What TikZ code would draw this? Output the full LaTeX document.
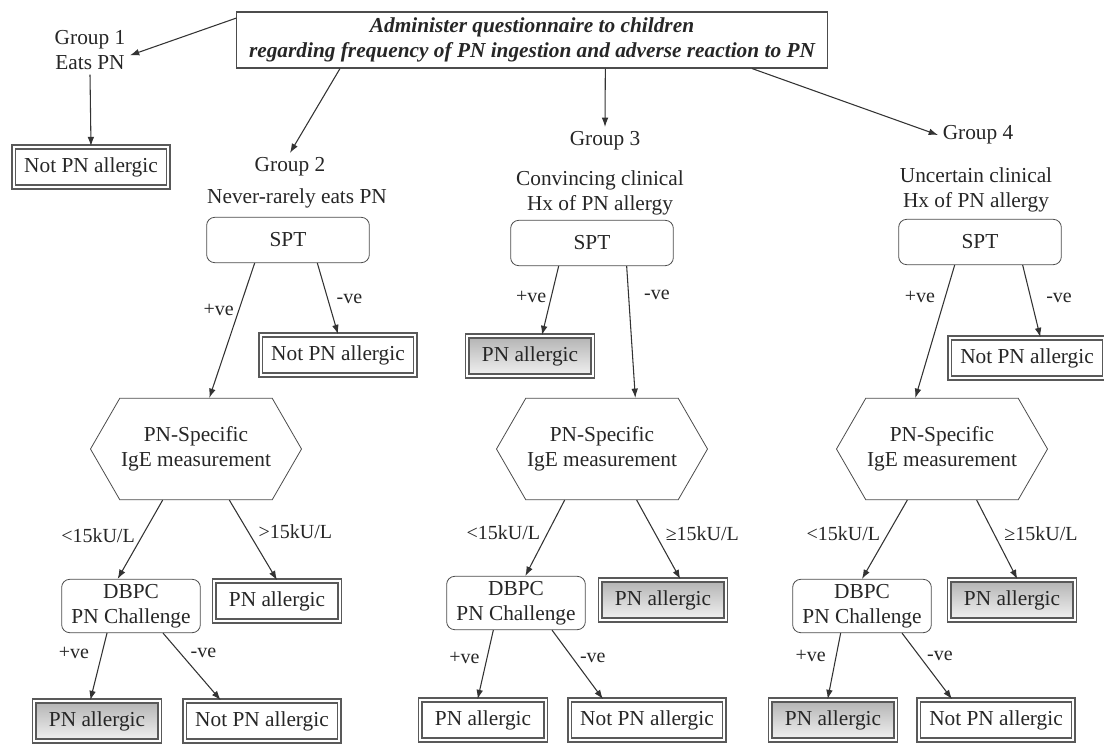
\documentclass[tikz,border=0pt]{standalone}
\usepackage{fontspec}
\setmainfont{Liberation Serif}
\usepackage{tikz}
\usetikzlibrary{shapes.symbols,arrows.meta}

\begin{document}
\begin{tikzpicture}[x=0.75pt,y=-0.75pt,font=\fontsize{16}{19}\selectfont,text=black!85,
  arr/.style={draw=black!80,line width=0.8pt,-{Latex[length=7pt,width=5pt]}},
  res/.style={draw=black!65,double=white,double distance=1.6pt,line width=1.3pt,minimum width=94pt,minimum height=30pt,inner sep=2pt},
  notres/.style={res,minimum width=116pt},
  shd/.style={top color=gray!60,bottom color=gray!10},
  spt/.style={draw=black!70,line width=0.6pt,rounded corners=6pt,minimum width=122pt,minimum height=34pt},
  dbpc/.style={draw=black!70,line width=0.6pt,rounded corners=6pt,minimum width=104pt,minimum height=40pt,align=center,inner sep=1pt},
  hex/.style={draw=black!70,line width=0.6pt,signal,signal to=west and east,signal pointer angle=120,minimum width=146pt,minimum height=76pt,align=center,inner sep=1pt},
  lbl/.style={font=\fontsize{15}{18}\selectfont}]
\useasboundingbox (0,0) rectangle (1104,744);

\node[draw=black!70,line width=0.8pt,minimum width=443pt,minimum height=42pt,align=center,inner sep=1pt,
  font=\fontsize{16}{19}\selectfont\bfseries\itshape] (top) at (532,40)
  {Administer questionnaire to children\\regarding frequency of PN ingestion and adverse reaction to PN};

% group 1
\node[align=center] (g1) at (90,50) {Group 1\\Eats PN};
\node[notres] (r1) at (91,167) {Not PN allergic};

% group 2
\node (g2) at (290,167) {Group 2};
\node (d2) at (297,198) {Never-rarely eats PN};
\node[spt] (spt2) at (288,240) {SPT};
\node[notres] (nr2) at (338,355) {Not PN allergic};
\node[hex] (hex2) at (196,449) {PN-Specific\\IgE measurement};
\node[dbpc] (dbpc2) at (131,606) {DBPC\\PN Challenge};
\node[res] (pa2) at (277,601) {PN allergic};
\node[res,shd] (pb2) at (97,721) {PN allergic};
\node[notres] (nb2) at (262,721) {Not PN allergic};

% group 3
\node (g3) at (605,141) {Group 3};
\node[align=center] (d3) at (600,193) {Convincing clinical\\Hx of PN allergy};
\node[spt] (spt3) at (592,243) {SPT};
\node[res,shd] (pa3s) at (530,356) {PN allergic};
\node[hex] (hex3) at (602,449) {PN-Specific\\IgE measurement};
\node[dbpc] (dbpc3) at (516,603) {DBPC\\PN Challenge};
\node[res,shd] (pa3) at (663,600) {PN allergic};
\node[res] (pb3) at (483,720) {PN allergic};
\node[notres] (nb3) at (647,720) {Not PN allergic};

% group 4
\node (g4) at (978,135) {Group 4};
\node[align=center] (d4) at (976,190) {Uncertain clinical\\Hx of PN allergy};
\node[spt] (spt4) at (980,242) {SPT};
\node[notres] (nr4) at (1027,358) {Not PN allergic};
\node[hex] (hex4) at (942,449) {PN-Specific\\IgE measurement};
\node[dbpc] (dbpc4) at (862,606) {DBPC\\PN Challenge};
\node[res,shd] (pa4) at (1012,600) {PN allergic};
\node[res,shd] (pb4) at (833,720) {PN allergic};
\node[notres] (nb4) at (996,720) {Not PN allergic};

% arrows from the questionnaire
\draw[arr] ([yshift=-5pt]top.north west) -- ([yshift=-4pt]g1.east);
\draw[arr] ([xshift=-144pt]top.south) -- (g2.north);
\draw[arr] ([xshift=55pt]top.south) -- (g3.north);
\draw[arr] ([xshift=165pt]top.south) -- (g4.west);
\draw[arr] (g1.south) -- (r1.north);

% group 2 arrows
\draw[arr] ([xshift=-25pt]spt2.south) -- node[lbl,pos=0.35,left] {+ve} ([xshift=10pt]hex2.north);
\draw[arr] ([xshift=22pt]spt2.south) -- node[lbl,pos=0.5,right=3pt] {-ve} (nr2.north);
\draw[arr] ([xshift=-25pt]hex2.south) -- node[lbl,pos=0.45,left=2pt] {<15kU/L} ([xshift=-10pt]dbpc2.north);
\draw[arr] ([xshift=25pt]hex2.south) -- node[lbl,pos=0.4,right=4pt] {>15kU/L} (pa2.north);
\draw[arr] ([xshift=-18pt]dbpc2.south) -- node[lbl,pos=0.3,left=6pt] {+ve} ([xshift=-5pt]pb2.north);
\draw[arr] ([xshift=24pt]dbpc2.south) -- node[lbl,pos=0.3,right=4pt] {-ve} ([xshift=-31pt]nb2.north);

% group 3 arrows
\draw[arr] ([xshift=-25pt]spt3.south) -- node[lbl,pos=0.45,left] {+ve} ([xshift=9pt]pa3s.north);
\draw[arr] ([xshift=26pt]spt3.south) -- node[lbl,pos=0.22,right=8pt] {-ve} ([xshift=25pt]hex3.north);
\draw[arr] ([xshift=-28pt]hex3.south) -- node[lbl,pos=0.43,left=2pt] {<15kU/L} ([xshift=7pt]dbpc3.north);
\draw[arr] ([xshift=26pt]hex3.south) -- node[lbl,pos=0.43,right=4pt] {≥15kU/L} ([xshift=13pt]pa3.north);
\draw[arr] ([xshift=-17pt]dbpc3.south) -- node[lbl,pos=0.4,left=2pt] {+ve} ([xshift=-4pt]pb3.north);
\draw[arr] ([xshift=27pt]dbpc3.south) -- node[lbl,pos=0.4,right=2pt] {-ve} ([xshift=-33pt]nb3.north);

% group 4 arrows
\draw[arr] ([xshift=-19pt]spt4.south) -- node[lbl,pos=0.24,left=4pt] {+ve} ([xshift=-20pt]hex4.north);
\draw[arr] ([xshift=32pt]spt4.south) -- node[lbl,pos=0.45,right=8pt] {-ve} ([xshift=10pt]nr4.north);
\draw[arr] ([xshift=-26pt]hex4.south) -- node[lbl,pos=0.43,left=2pt] {<15kU/L} (dbpc4.north);
\draw[arr] ([xshift=26pt]hex4.south) -- node[lbl,pos=0.43,right=4pt] {≥15kU/L} ([xshift=4pt]pa4.north);
\draw[arr] ([xshift=-16pt]dbpc4.south) -- node[lbl,pos=0.35,left=4pt] {+ve} ([xshift=-4pt]pb4.north);
\draw[arr] ([xshift=30pt]dbpc4.south) -- node[lbl,pos=0.35,right=2pt] {-ve} ([xshift=-33pt]nb4.north);
\end{tikzpicture}
\end{document}
